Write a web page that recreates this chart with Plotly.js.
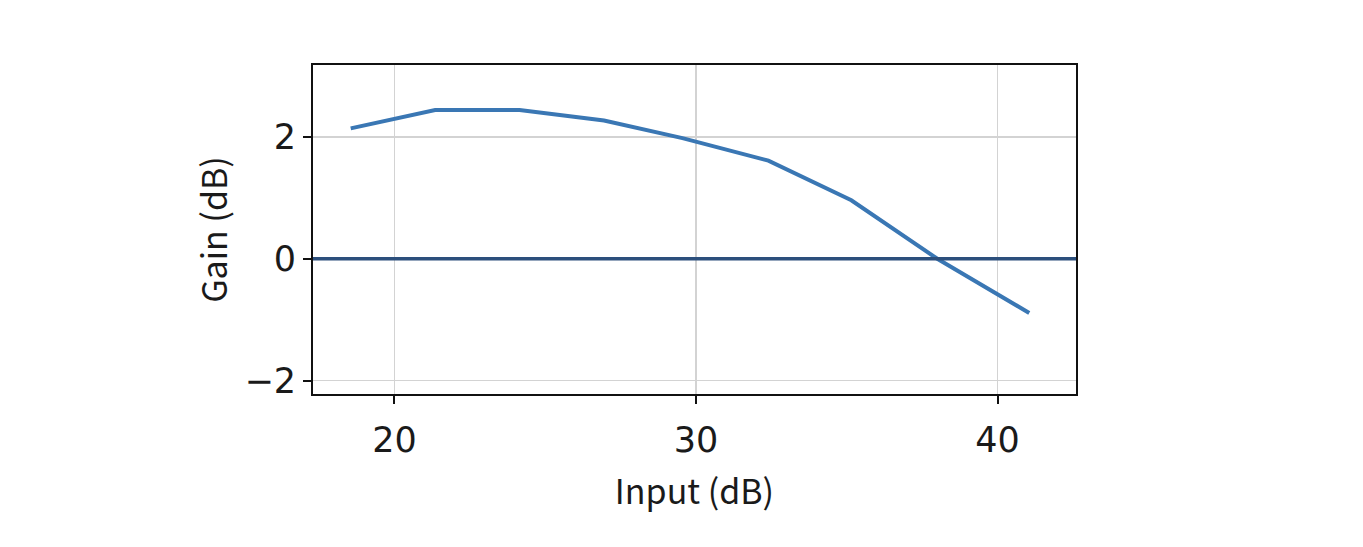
<!DOCTYPE html>
<html>
<head>
<meta charset="utf-8">
<script src="https://cdn.plot.ly/plotly-3.0.1.min.js"></script>
<style>html,body{margin:0;padding:0;background:#fff;}#chart{width:1363px;height:547px;}</style>
</head>
<body>
<div id="chart"></div>
<script>
const inputDb = [18.55, 21.35, 24.15, 26.95, 29.55, 32.4, 35.15, 38.0, 41.05];
const gainDb = [2.14, 2.44, 2.44, 2.27, 1.98, 1.61, 0.96, 0.0, -0.89];
const referenceGain = 0;
const xTicks = [20, 30, 40];
const yTicks = [-2, 0, 2];

const TITLE_FONT = '"Noto Sans CJK JP", "Noto Sans", sans-serif';
const TICK_FONT = '"DejaVu Sans", sans-serif';

const data = [{
  x: inputDb,
  y: gainDb,
  type: 'scatter',
  mode: 'lines',
  line: {color: '#3a77b4', width: 4},
  hoverinfo: 'x+y',
  showlegend: false
}];

const layout = {
  width: 1363,
  height: 547,
  paper_bgcolor: '#ffffff',
  plot_bgcolor: '#ffffff',
  margin: {l: 313, r: 287, t: 65, b: 153},
  font: {family: TITLE_FONT, color: '#1a1a1a', size: 30},
  showlegend: false,
  xaxis: {
    range: [17.3, 42.6],
    tickvals: xTicks,
    ticktext: xTicks.map(String),
    showgrid: true,
    gridcolor: '#d3d3d3',
    gridwidth: 1.5,
    zeroline: false,
    showline: true,
    linecolor: '#111111',
    linewidth: 2,
    mirror: true,
    ticks: 'outside',
    ticklen: 8,
    tickwidth: 2,
    tickcolor: '#111111',
    ticklabelstandoff: 6,
    tickfont: {family: TICK_FONT, size: 35, color: '#1a1a1a'},
    title: {text: 'Input (dB)', font: {family: TITLE_FONT, size: 34, color: '#1a1a1a'}, standoff: 21}
  },
  yaxis: {
    range: [-2.22, 3.18],
    tickvals: yTicks,
    ticktext: yTicks.map(v => v < 0 ? '\u2212' + Math.abs(v) : String(v)),
    showgrid: true,
    gridcolor: '#d3d3d3',
    gridwidth: 1.5,
    zeroline: false,
    showline: true,
    linecolor: '#111111',
    linewidth: 2,
    mirror: true,
    ticks: 'outside',
    ticklen: 8,
    tickwidth: 2,
    tickcolor: '#111111',
    tickfont: {family: TICK_FONT, size: 35, color: '#1a1a1a'},
    title: {text: 'Gain (dB)', font: {family: TITLE_FONT, size: 34, color: '#1a1a1a'}, standoff: 6}
  },
  shapes: [{
    type: 'line',
    xref: 'paper', yref: 'y',
    x0: 0, x1: 1,
    y0: referenceGain, y1: referenceGain,
    line: {color: '#2c4f7c', width: 3.5},
    layer: 'above'
  }]
};

Plotly.newPlot('chart', data, layout, {displayModeBar: false, staticPlot: true});
</script>
</body>
</html>
